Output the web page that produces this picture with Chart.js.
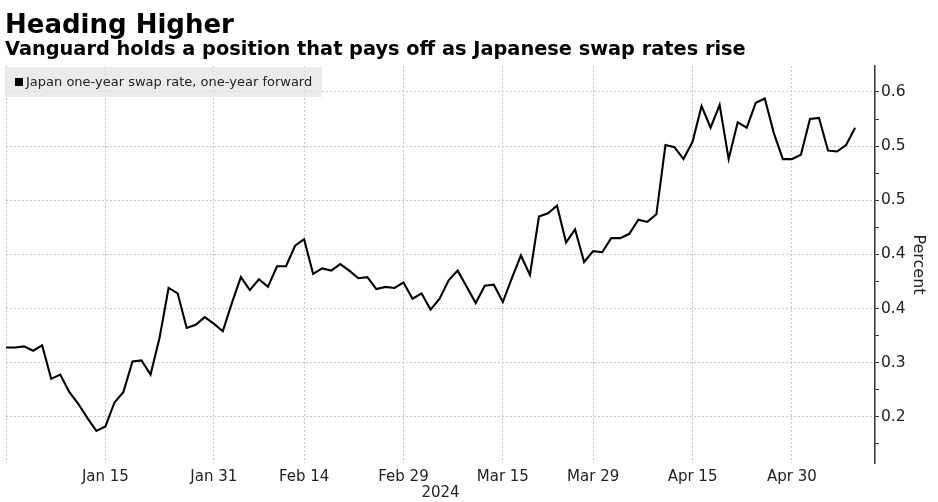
<!DOCTYPE html>
<html>
<head>
<meta charset="utf-8">
<title>Heading Higher</title>
<script src="https://cdn.jsdelivr.net/npm/chart.js@4.4.1/dist/chart.umd.min.js"></script>
<style>
  html, body { margin: 0; padding: 0; background: #fff; }
  #wrap { position: relative; width: 938px; height: 502px; overflow: hidden; font-family: "DejaVu Sans", sans-serif; color: #000; }
  #c { position: absolute; left: 0; top: 0; }
  .title { position: absolute; left: 5px; top: 11px; font-size: 26px; line-height: 26px; font-weight: bold; white-space: nowrap; }
  .subtitle { position: absolute; left: 5px; top: 39px; font-size: 19.35px; line-height: 19px; font-weight: bold; white-space: nowrap; }
  .legend { position: absolute; left: 5px; top: 67px; width: 317px; height: 30px; background: rgba(228, 228, 228, 0.75); }
  .legend .sw { position: absolute; left: 10px; top: 11px; width: 8px; height: 8px; background: #000; }
  .legend .tx { position: absolute; left: 21px; top: 7px; font-size: 13px; line-height: 16px; color: #222; white-space: nowrap; }
</style>
</head>
<body>
<div id="wrap">
  <canvas id="c" width="938" height="502"></canvas>
  <div class="title">Heading Higher</div>
  <div class="subtitle">Vanguard holds a position that pays off as Japanese swap rates rise</div>
  <div class="legend"><span class="sw"></span><span class="tx">Japan one-year swap rate, one-year forward</span></div>
</div>
<script>
  "use strict";

  var FONT = "'DejaVu Sans', sans-serif";
  var TEXT = "#222";
  var GRID = "#c8c8c8";

  // one value per trading day, index 0 = Dec 29 2023
  var swapRate = [
    0.314, 0.314, 0.315, 0.311, 0.316, 0.285, 0.289, 0.273, 0.262, 0.249,
    0.237, 0.241, 0.263, 0.273, 0.301, 0.302, 0.289, 0.323, 0.369, 0.364,
    0.332, 0.335, 0.342, 0.336, 0.329, 0.355, 0.379, 0.367, 0.377, 0.370,
    0.389, 0.389, 0.408, 0.414, 0.382, 0.387, 0.385, 0.391, 0.385, 0.378,
    0.379, 0.368, 0.370, 0.369, 0.374, 0.359, 0.364, 0.349, 0.359, 0.376,
    0.385, 0.370, 0.355, 0.371, 0.372, 0.356, 0.378, 0.399, 0.381, 0.435,
    0.438, 0.445, 0.411, 0.423, 0.393, 0.403, 0.402, 0.415, 0.415, 0.419,
    0.432, 0.430, 0.437, 0.501, 0.499, 0.488, 0.504, 0.537, 0.517, 0.538,
    0.488, 0.522, 0.517, 0.540, 0.544, 0.512, 0.488, 0.488, 0.492, 0.525,
    0.526, 0.496, 0.495, 0.501, 0.517
  ];

  // x ticks: trading-day index and label
  var xTickIdx = [11, 23, 33, 44, 55, 65, 76, 87];
  var xTickLabels = ["Jan 15", "Jan 31", "Feb 14", "Feb 29", "Mar 15", "Mar 29", "Apr 15", "Apr 30"];

  // y ticks (labels are rounded to one decimal, as in the source)
  var yMajorTicks = [0.25, 0.30, 0.35, 0.40, 0.45, 0.50, 0.55];
  var yTickLabels = ["0.2", "0.3", "0.4", "0.4", "0.5", "0.5", "0.6"];
  var yMinorTicks = [0.225, 0.275, 0.325, 0.375, 0.425, 0.475, 0.525];

  function majorIndex(v) {
    for (var i = 0; i < yMajorTicks.length; i++) {
      if (Math.abs(yMajorTicks[i] - v) < 1e-6) return i;
    }
    return -1;
  }

  var points = swapRate.map(function (v, i) { return { x: i, y: v }; });

  new Chart(document.getElementById("c"), {
    type: "line",
    data: {
      datasets: [{
        label: "Japan one-year swap rate, one-year forward",
        data: points,
        borderColor: "#000",
        backgroundColor: "#000",
        borderWidth: 2.1,
        pointRadius: 0,
        tension: 0,
        fill: false
      }]
    },
    options: {
      responsive: false,
      animation: false,
      layout: { padding: { top: 66, left: 6, right: 0, bottom: 0 } },
      plugins: { legend: { display: false }, tooltip: { enabled: false } },
      scales: {
        x: {
          type: "linear",
          min: 0,
          max: 96.2,
          afterBuildTicks: function (s) {
            s.ticks = [0].concat(xTickIdx).map(function (v) { return { value: v }; });
          },
          afterFit: function (s) { s.height = 39; },
          ticks: {
            autoSkip: false,
            maxRotation: 0,
            padding: 5,
            color: TEXT,
            font: { family: FONT, size: 15 },
            callback: function (v) {
              var k = xTickIdx.indexOf(v);
              return k < 0 ? "" : xTickLabels[k];
            }
          },
          grid: { color: GRID, lineWidth: 1, drawTicks: false },
          border: { display: false, dash: [2, 2] },
          title: { display: true, text: "2024", color: TEXT, font: { family: FONT, size: 15 }, padding: { top: 0, bottom: 0 } }
        },
        y: {
          type: "linear",
          position: "right",
          min: 0.2073,
          max: 0.574,
          afterBuildTicks: function (s) {
            s.ticks = yMinorTicks.concat(yMajorTicks).sort(function (a, b) { return a - b; })
              .map(function (v) { return { value: v }; });
          },
          afterFit: function (s) { s.width = 63; },
          ticks: {
            autoSkip: false,
            padding: 2,
            color: TEXT,
            font: { family: FONT, size: 15.5 },
            callback: function (v) {
              var k = majorIndex(v);
              return k < 0 ? "" : yTickLabels[k];
            }
          },
          grid: {
            color: function (ctx) {
              return ctx.tick && majorIndex(ctx.tick.value) >= 0 ? GRID : "rgba(0,0,0,0)";
            },
            tickColor: "#333",
            tickLength: 4,
            drawTicks: true
          },
          border: { display: true, color: "#333", width: 1.5, dash: [2, 2] },
          title: { display: true, text: "Percent", color: TEXT, font: { family: FONT, size: 16 }, padding: { top: 10, bottom: 0 } }
        }
      }
    }
  });
</script>
</body>
</html>
